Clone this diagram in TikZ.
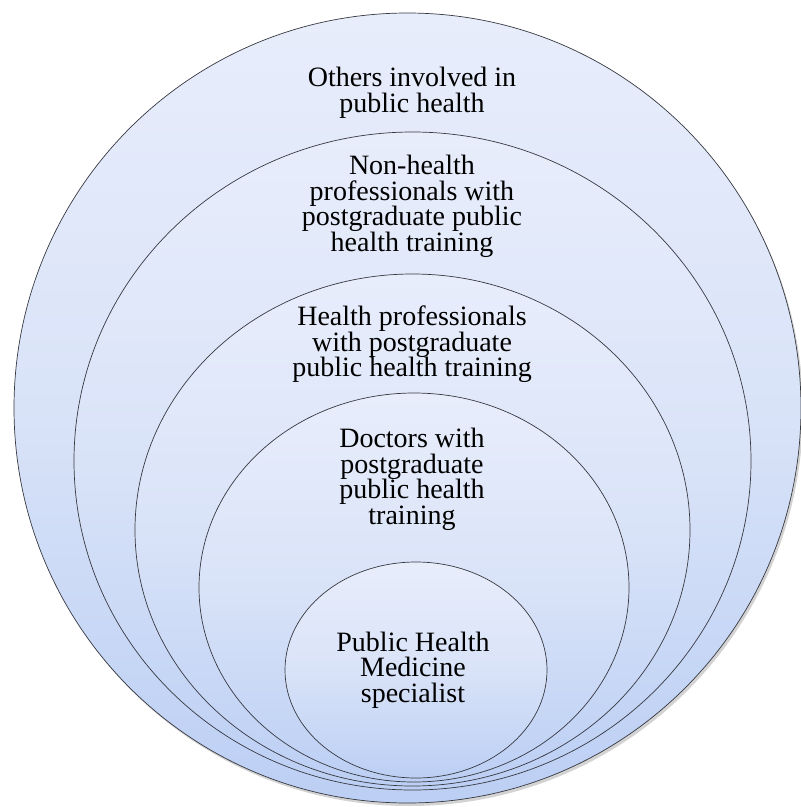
\documentclass[tikz,border=0pt]{standalone}
\usepackage{fontspec}
\setmainfont{Liberation Serif}
\usetikzlibrary{shadows}
\definecolor{ringtop}{RGB}{232,237,251}
\definecolor{ringmid}{RGB}{217,227,248}
\definecolor{ringbot}{RGB}{188,207,244}
\definecolor{ringline}{RGB}{55,57,65}
\tikzset{
  ring/.style={draw=ringline, line width=0.7pt, top color=ringtop, bottom color=ringbot, middle color=ringmid},
  label/.style={font=\fontsize{28}{25.5}\selectfont, align=center, text=black, inner sep=0pt}
}
\begin{document}
\begin{tikzpicture}[x=1pt,y=-1pt]
\useasboundingbox (0,0) rectangle (801,807);
\path[ring, drop shadow={opacity=0.35, shadow xshift=2pt, shadow yshift=-3pt}]
  (407.5,408) ellipse [x radius=393.5pt, y radius=395pt];
\path[ring] (412.5,461) ellipse [x radius=338.5pt, y radius=329pt];
\path[ring] (412.5,530) ellipse [x radius=277.5pt, y radius=256pt];
\path[ring] (414,587.5) ellipse [x radius=215pt, y radius=194.5pt];
\path[ring] (416,670) ellipse [x radius=131pt, y radius=108pt];
\node[label] (others) at (412,93) {Others involved in\\public health};
\node[label] (nonhealth) at (412,206.5) {Non-health\\professionals with\\postgraduate public\\health training};
\node[label] (healthprof) at (412,344.5) {Health professionals\\with postgraduate\\public health training};
\node[label] (doctors) at (412,479.5) {Doctors with\\postgraduate\\public health\\training};
\node[label] (phm) at (413,670) {Public Health\\Medicine\\specialist};
\end{tikzpicture}
\end{document}
